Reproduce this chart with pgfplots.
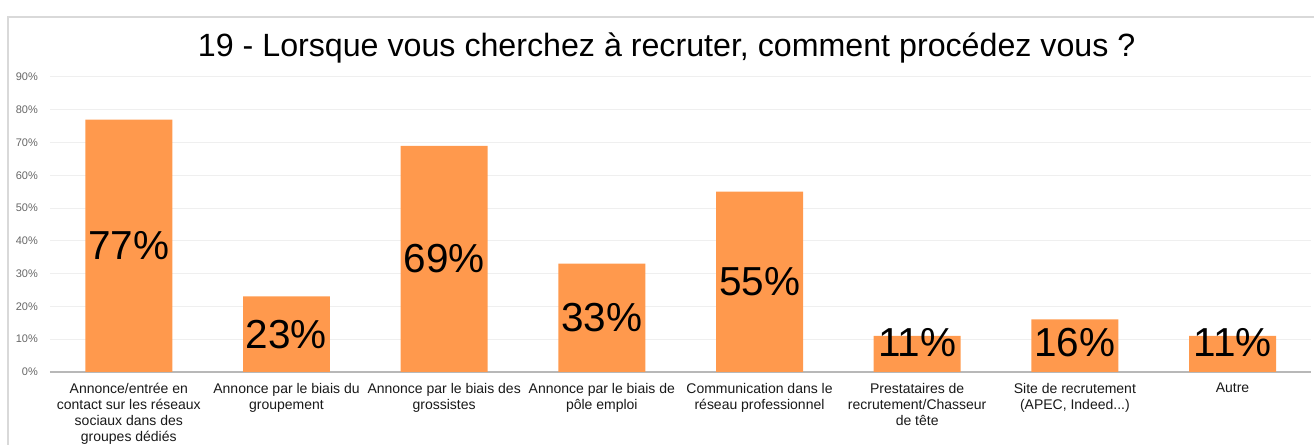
\documentclass[border=0pt]{standalone}
\usepackage{pgfplots}
\pgfplotsset{compat=1.18}
\usepackage{fontspec}
\setmainfont{Liberation Sans}
\definecolor{barorange}{HTML}{FF994D}
\definecolor{gridgray}{HTML}{EFEFEF}
\definecolor{axisgray}{HTML}{B8B8B8}
\definecolor{framegray}{HTML}{D9D9D9}
\definecolor{ticktext}{HTML}{666666}
\begin{document}
\begin{tikzpicture}
% page frame (1 px = 1 pt)
\path (0,0) rectangle (1315pt,445pt);
\draw[framegray, line width=1.2pt] (8pt,0) -- (8pt,428pt) -- (1315pt,428pt);
\node[anchor=base, inner sep=0pt, font=\fontsize{32.2}{37}\selectfont] at (667pt,388pt)
  {19 - Lorsque vous cherchez à recruter, comment procédez vous ?};
\begin{axis}[
    at={(50pt,73pt)}, anchor=south west,
    scale only axis,
    width=1262pt, height=295pt,
    xmin=-0.5, xmax=7.5,
    ymin=0, ymax=90,
    xtick={0,1,2,3,4,5,6,7},
    xticklabels={
      {Annonce/entrée en\\contact sur les réseaux\\sociaux dans des\\groupes dédiés},
      {Annonce par le biais du\\groupement},
      {Annonce par le biais des\\grossistes},
      {Annonce par le biais de\\pôle emploi},
      {Communication dans le\\réseau professionnel},
      {Prestataires de\\recrutement/Chasseur\\de tête},
      {Site de recrutement\\(APEC, Indeed{.}{.}{.})},
      {Autre}},
    ytick={0,10,20,30,40,50,60,70,80,90},
    yticklabels={0\%,10\%,20\%,30\%,40\%,50\%,60\%,70\%,80\%,90\%},
    major tick length=0pt,
    xticklabel style={align=center, anchor=north, inner sep=0pt, yshift=-11pt,
      font=\fontsize{14}{16}\selectfont, text=black!90},
    yticklabel style={anchor=east, inner sep=0pt, xshift=-12pt,
      font=\fontsize{11}{13}\selectfont, text=ticktext},
    ymajorgrids,
    grid style={gridgray, line width=1pt},
    axis x line*=bottom, axis y line*=left,
    x axis line style={axisgray, line width=1.5pt},
    y axis line style={draw=none},
    clip=false
]
\addplot[ybar, bar width=87pt, fill=barorange, draw=none]
  coordinates {(0,77) (1,23) (2,69) (3,33) (4,55) (5,11) (6,16) (7,11)};
\addplot[draw=none, mark=none, nodes near coords, point meta=explicit symbolic,
  nodes near coords style={anchor=center, inner sep=0pt, font=\fontsize{40.5}{47}\selectfont, text=black}]
  coordinates {(0,38.5) [77\%] (1,11.5) [23\%] (2,34.5) [69\%] (3,16.5) [33\%]
               (4,27.5) [55\%] (5,8.8) [11\%] (6,8.8) [16\%] (7,8.8) [11\%]};
\end{axis}
\end{tikzpicture}
\end{document}
